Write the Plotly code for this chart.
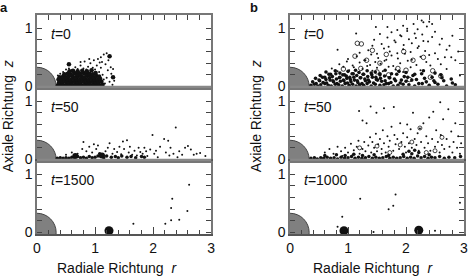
import plotly.graph_objects as go

# ---------------- data (r, z) ----------------
nozzle_radius = 0.33
time_labels_a = ["0", "50", "1500"]
time_labels_b = ["0", "50", "1000"]
x_tick_vals = [0, 1, 2, 3]
y_tick_labels = ["0", "", "", "", "", "1"]

# panel a, t=0
a0_core = [(0.36,0.02),(0.41,0.03),(0.46,0.01),(0.51,0.03),(0.57,0.02),(0.62,0.01),(0.67,0.03),(0.72,0.02),(0.78,0.01),(0.83,0.03),(0.88,0.02),(0.93,0.01),(0.98,0.03),(1.03,0.02),(1.08,0.01),(1.13,0.03),
           (0.38,0.07),(0.44,0.06),(0.49,0.08),(0.54,0.07),(0.60,0.06),(0.65,0.08),(0.70,0.07),(0.75,0.06),(0.80,0.08),(0.86,0.07),(0.91,0.06),(0.96,0.08),(1.01,0.07),(1.06,0.06),(1.11,0.08),
           (0.37,0.12),(0.42,0.11),(0.47,0.13),(0.53,0.12),(0.58,0.11),(0.63,0.13),(0.68,0.12),(0.73,0.11),(0.78,0.13),(0.84,0.12),(0.89,0.11),(0.94,0.13),(0.99,0.12),(1.04,0.11),(1.09,0.13),
           (0.39,0.16),(0.45,0.17),(0.50,0.16),(0.55,0.18),(0.61,0.17),(0.66,0.16),(0.71,0.18),(0.76,0.17),(0.81,0.16),(0.87,0.18),(0.92,0.17),(0.97,0.16),(1.02,0.18),(1.07,0.17),
           (0.47,0.21),(0.53,0.22),(0.58,0.21),(0.64,0.23),(0.69,0.21),(0.74,0.22),(0.80,0.23),(0.85,0.21),(0.90,0.22),(0.96,0.21),(1.01,0.23),
           (0.56,0.26),(0.62,0.27),(0.70,0.26),(0.78,0.27),(0.86,0.26),(0.94,0.28)]
a0_fringe = [(0.50,0.29),(0.55,0.31),(0.60,0.28),(0.66,0.33),(0.70,0.30),(0.75,0.36),(0.80,0.31),(0.85,0.29),(0.88,0.34),(0.92,0.40),(0.96,0.32),(1.00,0.29),(1.03,0.36),(1.07,0.25),
             (1.10,0.32),(1.13,0.20),(1.15,0.12),(1.17,0.05),(1.20,0.15),(1.22,0.28),(1.25,0.08),(1.28,0.22),(1.31,0.30),(1.33,0.10),(0.98,0.45),(1.05,0.47),(1.10,0.50),(1.15,0.55),
             (1.20,0.57),(1.12,0.42),(1.18,0.38),(1.27,0.33),(1.30,0.03),(0.45,0.25),(0.40,0.22),(0.36,0.19),(0.82,0.43),(0.75,0.42),(0.90,0.47),(1.08,0.41),(1.23,0.45)]
a0_big = [(0.55,0.38),(1.25,0.52),(1.31,0.16)]

# panel a, t=50
a50_layer = [(0.35,0.02),(0.40,0.03),(0.45,0.02),(0.50,0.03),(0.55,0.02),(0.60,0.04),(0.65,0.03),(0.70,0.05),(0.75,0.03),(0.80,0.04),(0.85,0.02),(0.90,0.05),(0.95,0.03),
             (1.00,0.04),(1.05,0.06),(1.10,0.05),(1.13,0.08),(1.08,0.10),(1.15,0.03),(1.20,0.06),(1.28,0.04),(1.35,0.05),(1.40,0.03),(1.46,0.06),(1.55,0.04),(1.62,0.05),
             (1.70,0.03),(1.80,0.05),(1.85,0.04),(0.65,0.07),(0.68,0.05)]
a50_blob = [(1.12,0.07),(0.66,0.06)]
a50_scatter = [(0.50,0.08),(0.60,0.12),(0.70,0.10),(0.78,0.18),(0.80,0.30),(0.85,0.14),(0.90,0.22),(0.95,0.12),(0.98,0.26),(1.02,0.18),(1.05,0.24),(1.18,0.14),(1.22,0.20),
               (1.25,0.28),(1.30,0.10),(1.33,0.18),(1.38,0.13),(1.42,0.22),(1.45,0.09),(1.48,0.31),(1.50,0.18),(1.55,0.33),(1.58,0.12),(1.60,0.22),(1.64,0.08),(1.68,0.15),
               (1.72,0.07),(1.75,0.20),(1.78,0.13),(1.82,0.10),(1.85,0.20),(1.88,0.14),(1.90,0.06),(1.95,0.17),(1.99,0.42),(2.02,0.10),(2.05,0.15),(2.08,0.04),(2.12,0.22),
               (2.19,0.35),(2.22,0.12),(2.26,0.32),(2.28,0.07),(2.30,0.20),(2.35,0.10),(2.39,0.55),(2.42,0.04),(2.45,0.14),(2.50,0.08),(2.55,0.20),(2.60,0.23),(2.65,0.17),
               (2.70,0.08),(2.75,0.10),(2.81,0.11),(2.90,0.06)]

# panel a, t=1500
a1500_small = [(1.66,0.15),(2.21,0.15),(2.31,0.21),(2.31,0.42),(2.33,0.58),(2.45,0.22),(2.59,0.37),(2.62,0.82)]
a1500_big = [(1.24,0.03)]

# panel b, t=0
b0_dense = [(0.36,0.02),(0.42,0.04),(0.48,0.01),(0.53,0.03),(0.60,0.05),(0.66,0.02),(0.71,0.01),(0.78,0.04),(0.84,0.03),(0.90,0.01),(0.95,0.05),(1.02,0.02),(1.08,0.04),(1.14,0.01),
            (1.20,0.03),(1.27,0.02),(1.33,0.05),(1.40,0.01),(1.47,0.04),(1.55,0.02),(1.62,0.03),(1.70,0.05),(1.78,0.01),(1.86,0.02),(1.95,0.04),(2.05,0.03),(2.15,0.01),(2.28,0.05),
            (2.40,0.02),(2.55,0.04),(2.70,0.01),(2.85,0.03),
            (0.39,0.08),(0.45,0.05),(0.51,0.10),(0.57,0.07),(0.63,0.06),(0.69,0.11),(0.75,0.08),(0.81,0.05),(0.87,0.09),(0.93,0.10),(0.99,0.06),(1.05,0.08),(1.11,0.11),(1.17,0.07),
            (1.24,0.05),(1.30,0.10),(1.37,0.08),(1.44,0.06),(1.51,0.11),(1.58,0.09),(1.66,0.05),(1.74,0.07),(1.82,0.10),(1.90,0.06),(2.00,0.09),(2.10,0.11),(2.22,0.05),(2.35,0.08),
            (2.50,0.07),(2.65,0.10),(2.80,0.06),
            (0.44,0.14),(0.50,0.11),(0.56,0.16),(0.62,0.12),(0.68,0.15),(0.74,0.10),(0.80,0.13),(0.86,0.16),(0.92,0.11),(0.98,0.14),(1.04,0.12),(1.10,0.16),(1.16,0.10),(1.22,0.15),
            (1.29,0.13),(1.35,0.11),(1.42,0.16),(1.49,0.12),(1.56,0.14),(1.64,0.10),(1.72,0.15),(1.80,0.13),(1.92,0.11),(2.03,0.16),(2.18,0.12),(2.32,0.14),(2.48,0.10),(2.62,0.15),
            (2.78,0.13),
            (0.52,0.19),(0.60,0.16),(0.67,0.21),(0.73,0.17),(0.79,0.22),(0.85,0.15),(0.91,0.20),(0.97,0.18),(1.03,0.16),(1.09,0.22),(1.15,0.19),(1.21,0.15),(1.27,0.21),(1.34,0.17),
            (1.41,0.20),(1.48,0.16),(1.55,0.22),(1.63,0.18),(1.71,0.15),(1.84,0.21),(1.97,0.17),(2.12,0.19),(2.27,0.22),(2.45,0.16),(2.60,0.20),
            (0.62,0.25),(0.70,0.21),(0.78,0.27),(0.86,0.23),(0.94,0.20),(1.00,0.26),(1.07,0.22),(1.13,0.28),(1.19,0.24),(1.26,0.21),(1.33,0.27),(1.40,0.23),(1.47,0.25),(1.55,0.20),
            (1.64,0.28),(1.75,0.22),(1.88,0.26),(2.00,0.24),(2.15,0.21),(2.30,0.27),(2.50,0.23)]
b0_sparse = [(0.72,0.31),(0.82,0.26),(0.92,0.34),(1.02,0.28),(1.10,0.33),(1.18,0.25),(1.25,0.30),(1.33,0.35),(1.42,0.27),(1.50,0.32),(1.60,0.26),(1.70,0.34),(1.82,0.29),(1.95,0.25),
             (2.08,0.33),(2.25,0.28),(2.42,0.36),(2.70,0.30),
             (0.85,0.38),(0.98,0.43),(1.08,0.36),(1.20,0.41),(1.30,0.45),(1.38,0.37),(1.47,0.42),(1.56,0.39),(1.66,0.46),(1.78,0.35),(1.90,0.40),(2.03,0.44),(2.18,0.37),(2.35,0.42),
             (2.60,0.38),(2.85,0.45),
             (1.00,0.47),(1.15,0.52),(1.28,0.45),(1.40,0.55),(1.52,0.49),(1.63,0.44),(1.75,0.53),(1.86,0.48),(1.98,0.56),(2.10,0.46),(2.25,0.51),(2.40,0.54),(2.55,0.47),(2.78,0.50),
             (1.20,0.58),(1.35,0.62),(1.50,0.56),(1.62,0.65),(1.72,0.60),(1.85,0.57),(1.95,0.64),(2.08,0.59),(2.20,0.66),(2.33,0.61),(2.50,0.57),(2.70,0.63),(2.90,0.60),
             (1.42,0.70),(1.58,0.73),(1.70,0.68),(1.82,0.76),(1.96,0.71),(2.10,0.74),(2.22,0.69),(2.38,0.77),(2.58,0.72),(2.75,0.70),(0.82,0.63),
             (1.45,0.80),(1.68,0.84),(1.80,0.79),(1.92,0.86),(2.05,0.81),(2.17,0.83),(2.30,0.78),(2.45,0.85),(2.62,0.82),
             (1.55,0.90),(1.75,0.93),(1.90,0.88),(2.02,0.95),(2.15,0.91),(2.28,0.89),(2.50,0.94),(2.80,0.87),
             (1.14,0.91),(1.85,0.97),(2.20,0.98),(2.02,0.99),
             (1.68,1.02),(1.48,1.02),(1.95,1.04),(2.13,1.07),(2.36,1.03),(2.45,1.07),
             (2.27,1.13),(2.30,1.10),(2.40,1.11),(2.93,0.19),(2.67,0.50)]
b0_open = [(1.16,0.74),(1.23,0.73),(1.42,0.62),(1.12,0.52),(1.32,0.45),(1.55,0.40),(1.66,0.55),(1.86,0.31),(2.00,0.28),(2.12,0.45),
           (2.30,0.50),(2.42,0.16),(2.60,0.18),(2.46,0.27),(1.70,0.20),(1.96,0.60),(0.92,0.30),(1.22,0.31),(2.06,0.12),(1.50,0.25)]

# panel b, t=50
b50_layer = [(0.36,0.02),(0.42,0.03),(0.47,0.01),(0.53,0.03),(0.58,0.02),(0.64,0.04),(0.70,0.02),(0.76,0.03),(0.82,0.01),(0.88,0.04),(0.94,0.02),(1.00,0.03),(1.06,0.05),(1.12,0.02),
             (1.18,0.04),(1.24,0.02),(1.30,0.03),(1.36,0.05),(1.42,0.02),(1.48,0.04),(1.54,0.02),(1.60,0.03),(1.66,0.05),(1.72,0.02),(1.78,0.04),(1.84,0.02),(1.90,0.03),(1.96,0.05),
             (2.02,0.02),(2.08,0.04),(2.14,0.02),(2.20,0.06),(2.26,0.03),(2.32,0.05),(2.38,0.02),(2.44,0.04),(2.50,0.03),(2.58,0.05),(2.66,0.02),(2.74,0.04),(2.84,0.03),(2.94,0.05),
             (0.60,0.07),(0.80,0.08),(0.95,0.07),(1.10,0.09),(1.25,0.07),(1.45,0.08),(1.70,0.07),(1.95,0.09),(2.10,0.10),(2.22,0.12),(2.40,0.08),(2.05,0.14),(2.15,0.16)]
b50_scatter = [(0.60,0.12),(0.68,0.18),(0.75,0.10),(0.82,0.22),(0.88,0.14),(0.95,0.20),(1.00,0.12),(1.05,0.27),(1.10,0.16),(1.15,0.22),(1.18,0.32),(1.20,0.10),(1.25,0.67),
               (1.19,0.83),(1.25,0.18),(1.28,0.30),(1.32,0.62),(1.30,0.14),(1.35,0.24),(1.38,0.38),(1.39,0.91),(1.40,0.12),(1.42,0.30),(1.45,0.20),(1.48,0.44),(1.49,0.80),
               (1.50,0.14),(1.52,0.26),(1.55,0.35),(1.58,0.18),(1.60,0.50),(1.62,0.88),(1.62,0.28),(1.65,0.12),(1.68,0.40),(1.70,0.22),(1.72,0.32),(1.75,0.56),(1.78,0.15),
               (1.79,0.90),(1.80,0.42),(1.82,0.26),(1.85,0.35),(1.88,0.18),(1.90,0.62),(1.92,0.30),(1.95,0.45),(1.98,0.22),(2.00,0.12),(2.02,0.38),(2.05,0.28),(2.08,0.52),
               (2.10,0.20),(2.12,0.80),(2.15,0.35),(2.18,0.25),(2.20,0.45),(2.22,0.15),(2.24,0.53),(2.26,0.30),(2.30,0.62),(2.32,0.20),(2.35,0.40),(2.38,0.28),(2.40,0.72),
               (2.42,0.15),(2.45,0.35),(2.47,0.82),(2.50,0.22),(2.52,0.50),(2.55,0.30),(2.58,0.12),(2.59,0.98),(2.60,0.42),(2.62,0.25),(2.64,0.69),(2.66,0.18),(2.70,0.35),
               (2.73,0.86),(2.75,0.22),(2.78,0.48),(2.80,0.12),(2.82,0.30),(2.85,0.62),(2.88,0.20),(2.90,0.40),(2.93,0.10),(2.95,0.28),(1.08,0.08),(0.90,0.06),(1.58,0.10),(2.02,0.60)]
b50_open = [(1.20,0.20),(1.50,0.23),(1.90,0.25),(2.10,0.30),(2.35,0.12),(2.50,0.15),(2.62,0.38),(1.72,0.12),(2.24,0.54)]

# panel b, t=1000
b1000_small = [(0.90,0.27),(0.82,0.10),(1.21,0.58),(1.70,0.40),(1.78,0.46),(1.82,0.65),(1.44,0.01),(2.50,0.03),(2.93,0.51)]
b1000_big = [(0.93,0.03),(2.22,0.04)]

# ---------------- figure ----------------
INK = "#111111"
FONT = "Liberation Sans, Arial, sans-serif"
fig = go.Figure()

def add(points, axis, size, symbol="circle"):
    xs = [p[0] for p in points]
    ys = [p[1] for p in points]
    xa = "x" if axis == 1 else f"x{axis}"
    ya = "y" if axis == 1 else f"y{axis}"
    fig.add_trace(go.Scatter(x=xs, y=ys, mode="markers", xaxis=xa, yaxis=ya, showlegend=False,
                             marker=dict(size=size, color=INK, symbol=symbol,
                                         line=dict(width=0.8 if "open" in symbol else 0, color=INK))))

add(a0_core, 1, 4.5); add(a0_fringe, 1, 2); add(a0_big, 1, 4.5)
add(a50_layer, 2, 3.5); add(a50_blob, 2, 6); add(a50_scatter, 2, 2)
add(a1500_small, 3, 2); add(a1500_big, 3, 9)
add(b0_dense, 4, 3.6); add(b0_sparse, 4, 2); add(b0_open, 4, 4.5, "circle-open")
add(b50_layer, 5, 3.5); add(b50_scatter, 5, 2); add(b50_open, 5, 4, "circle-open")
add(b1000_small, 6, 2); add(b1000_big, 6, 9)

W, H = 472, 278
ml, mr, mt, mb = 37, 3.5, 15, 44
pw = W - ml - mr
dom_a = [0, 176 / pw]
dom_b = [(292.7 - ml) / pw, 1]
row_dom = [[2/3, 1], [1/3, 2/3], [0, 1/3]]
yvals = [0, 0.2, 0.4, 0.6, 0.8, 1.0]

layout = dict(width=W, height=H, margin=dict(l=ml, r=mr, t=mt, b=mb),
              plot_bgcolor="white", paper_bgcolor="white",
              font=dict(family=FONT, size=14, color="#111"))
shapes, annotations = [], []
for p, xdom in enumerate([dom_a, dom_b]):
    for r in range(3):
        k = p * 3 + r + 1
        xkey = "xaxis" if k == 1 else f"xaxis{k}"
        ykey = "yaxis" if k == 1 else f"yaxis{k}"
        xref = "x" if k == 1 else f"x{k}"
        yref = "y" if k == 1 else f"y{k}"
        xa = dict(domain=xdom, range=[0, 3], anchor=yref, showgrid=False, zeroline=False,
                  showline=True, linecolor="#777", linewidth=1.5, mirror=True, fixedrange=True)
        if r == 0:
            xa.update(side="top", ticks="inside", tickvals=[0.2 * i for i in range(16)],
                      showticklabels=False, ticklen=5, tickcolor="#444", tickwidth=1)
        elif r == 1:
            xa.update(ticks="", showticklabels=False)
        else:
            xa.update(side="bottom", ticks="inside", tickvals=x_tick_vals,
                      ticktext=[str(v) for v in x_tick_vals], ticklen=7, tickcolor="#444",
                      tickwidth=1, linecolor="#555",
                      minor=dict(ticks="inside", dtick=0.2, ticklen=4, tickcolor="#444", tickwidth=1),
                      tickfont=dict(size=14))
        ya = dict(domain=row_dom[r], range=[-0.025, 1.225], anchor=xref, showgrid=False, zeroline=False,
                  showline=True, linecolor="#777", linewidth=1.5, mirror="ticks", ticks="inside",
                  tickvals=yvals, ticktext=y_tick_labels, ticklen=5, tickcolor="#444", tickwidth=1,
                  tickfont=dict(size=14), fixedrange=True)
        layout[xkey] = xa
        layout[ykey] = ya
        # nozzle quarter disk
        shapes.append(dict(type="circle", xref=xref, yref=yref, x0=-nozzle_radius, x1=nozzle_radius,
                           y0=-nozzle_radius, y1=nozzle_radius, fillcolor="#808080",
                           line=dict(color="#444", width=1), layer="below"))
        # z = 0 separator
        if r < 2:
            shapes.append(dict(type="line", xref=f"{xref} domain", yref=yref, x0=0, x1=1, y0=-0.01, y1=-0.01,
                               line=dict(color="#888", width=2.5)))
        tl = (time_labels_a if p == 0 else time_labels_b)[r]
        annotations.append(dict(text=f"<i>t</i>={tl}", xref=xref, yref=yref, x=0.2, y=0.9,
                                xanchor="left", yanchor="middle", showarrow=False, font=dict(size=14)))

def px2paper(px, py):
    return (px - ml) / pw, (H - mb - py) / (H - mt - mb)

for label, (px, py) in [("<b>a</b>", (4, 7)), ("<b>b</b>", (256, 7.5))]:
    x, y = px2paper(px, py)
    annotations.append(dict(text=label, xref="paper", yref="paper", x=x, y=y, showarrow=False,
                            xanchor="center", yanchor="middle", font=dict(size=13)))
for px in [8, 258.5]:
    x, y = px2paper(px, 116)
    annotations.append(dict(text="Axiale Richtung  <i>z</i>", xref="paper", yref="paper", x=x, y=y,
                            textangle=-90, showarrow=False, xanchor="center", yanchor="middle",
                            font=dict(size=14)))
for px in [117.5, 377]:
    x, y = px2paper(px, 267.5)
    annotations.append(dict(text="Radiale Richtung  <i>r</i>", xref="paper", yref="paper", x=x, y=y,
                            showarrow=False, xanchor="center", yanchor="middle", font=dict(size=14)))

layout["shapes"] = shapes
layout["annotations"] = annotations
fig.update_layout(**layout)
fig.write_html("out.html", config={"displayModeBar": False},
               post_script="document.body.style.margin='0';document.body.style.overflow='hidden';")
